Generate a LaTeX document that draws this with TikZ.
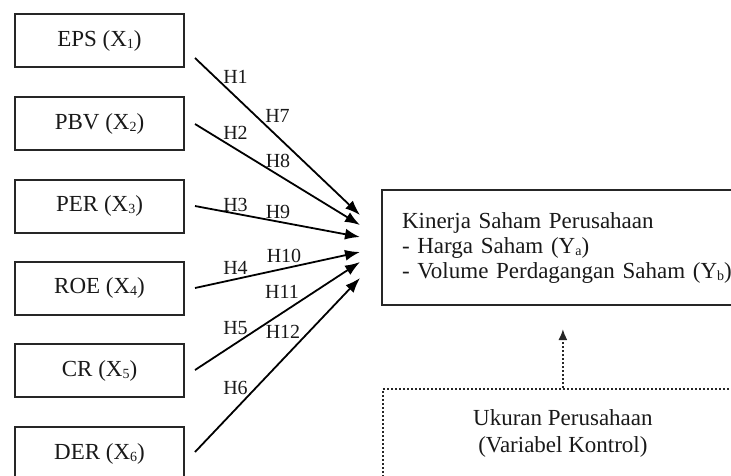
\documentclass[tikz,border=0pt]{standalone}
\usepackage{fontspec}
\setmainfont{Liberation Serif}
\usetikzlibrary{arrows.meta}
\newcommand{\sbs}[1]{\raisebox{-0.1em}{\fontsize{14}{14}\selectfont #1}}
\begin{document}
\begin{tikzpicture}[x=1pt,y=-1pt,
  varbox/.style={draw=black!85,line width=2pt,minimum width=169pt,minimum height=53pt,
    inner sep=0pt,font=\fontsize{23}{25}\selectfont,text=black!90},
  hyp/.style={inner sep=0pt,font=\fontsize{20}{21}\selectfont,text=black!90},
  link/.style={line width=1.8pt,draw=black,-{Latex[length=15pt,width=11pt]}},
  dotlink/.style={line width=1.8pt,draw=black!85,dash pattern=on 1.6pt off 2.4pt,
    -{Latex[length=11pt,width=9pt]}},
  dotbox/.style={draw=black!85,line width=1.8pt,dash pattern=on 1.6pt off 2.4pt,
    minimum width=360pt,minimum height=90pt,inner sep=0pt,align=center,
    font=\fontsize{23}{27}\selectfont,text=black!90}]
\useasboundingbox (0,0) rectangle (731,475);
\clip (0,0) rectangle (731,475);

\node[varbox] (x1) at (99.5,40.5) {EPS (X\sbs{1})};
\node[varbox] (x2) at (99.5,123.5) {PBV (X\sbs{2})};
\node[varbox] (x3) at (99.5,206) {PER (X\sbs{3})};
\node[varbox] (x4) at (99.5,288) {ROE (X\sbs{4})};
\node[varbox] (x5) at (99.5,370.5) {CR (X\sbs{5})};
\node[varbox] (x6) at (99.5,453.5) {DER (X\sbs{6})};

\node[draw=black!85,line width=2pt,anchor=north west,minimum width=380pt,minimum height=115pt,
  inner xsep=20pt,inner ysep=0pt,text width=340pt,align=left,
  font=\fontsize{23}{25}\selectfont,text=black!90] (y) at (381,189)
  {Kinerja Saham Perusahaan\\- Harga Saham (Y\sbs{a})\\- Volume Perdagangan Saham (Y\sbs{b})};

\node[dotbox,anchor=north west] (c) at (382,388) {Ukuran Perusahaan\\(Variabel Kontrol)};

\coordinate (s1) at (195,58);
\coordinate (s2) at (195,124);
\coordinate (s3) at (195,206);
\coordinate (s4) at (195,288);
\coordinate (s5) at (195,370);
\coordinate (s6) at (195,452);
\coordinate (t1) at (360,215);
\coordinate (t2) at (360,225);
\coordinate (t3) at (360,237);
\coordinate (t4) at (360,252);
\coordinate (t5) at (360,262);
\coordinate (t6) at (360,278);

\draw[link] (s1) -- (t1);
\draw[link] (s2) -- (t2);
\draw[link] (s3) -- (t3);
\draw[link] (s4) -- (t4);
\draw[link] (s5) -- (t5);
\draw[link] (s6) -- (t6);

\node[hyp] (h1) at (235.5,77) {H1};
\node[hyp] (h7) at (277.5,116) {H7};
\node[hyp] (h2) at (235.5,133) {H2};
\node[hyp] (h8) at (278,161) {H8};
\node[hyp] (h3) at (235.5,205) {H3};
\node[hyp] (h9) at (278,212) {H9};
\node[hyp] (h10) at (284,256) {H10};
\node[hyp] (h4) at (235.5,268) {H4};
\node[hyp] (h11) at (282,292) {H11};
\node[hyp] (h5) at (235.5,328) {H5};
\node[hyp] (h12) at (283,332) {H12};
\node[hyp] (h6) at (235.5,388) {H6};

\draw[dotlink,shorten >=23pt] (c.north) -- (c.north |- y.south);
\end{tikzpicture}
\end{document}
